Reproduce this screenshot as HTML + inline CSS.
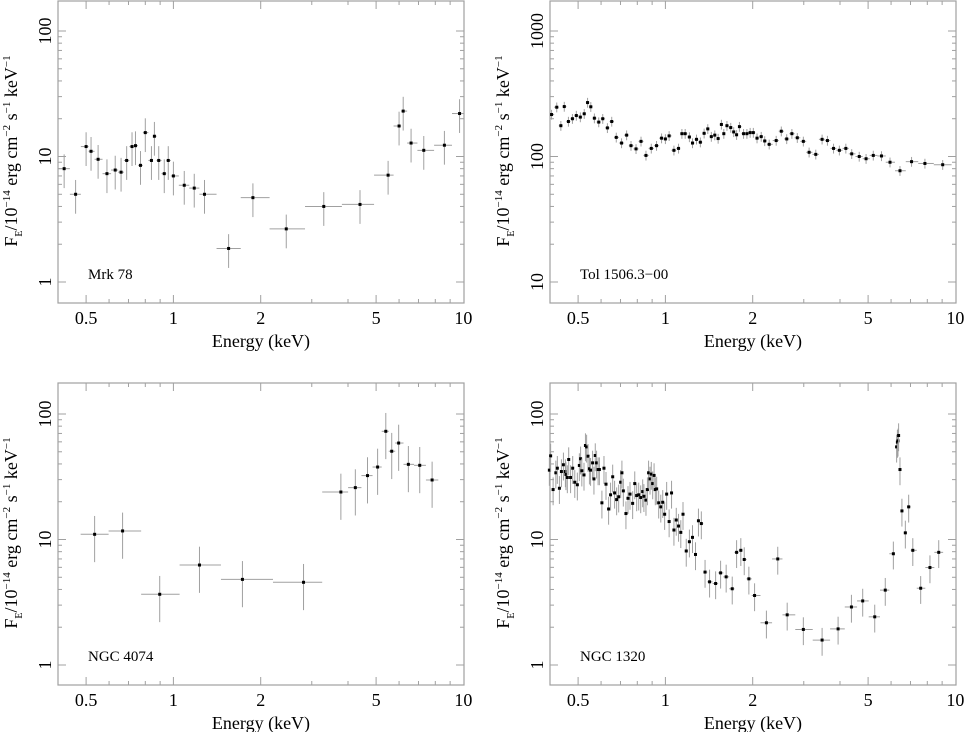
<!DOCTYPE html>
<html><head><meta charset="utf-8">
<style>
html,body{margin:0;padding:0;background:#fff;}
svg, svg text, svg tspan{font-family:"Liberation Serif","Times New Roman",serif;}
</style></head>
<body>
<svg id="fig" width="964" height="732" viewBox="0 0 964 732" xmlns="http://www.w3.org/2000/svg" font-family="Liberation Serif, serif"></svg>
<script>
// ---- Data: Mrk 78 ----
const mrkE = [0.42,0.46,0.50,0.52,0.55,0.59,0.63,0.66,0.69,0.72,0.74,0.77,0.80,0.84,0.86,0.89,0.93,0.96,1.0,1.09,1.18,1.28,1.55,1.88,2.45,3.3,4.4,5.5,6.0,6.2,6.6,7.3,8.6,9.7];
const mrkF = [8.0,5.0,12,11,9.5,7.3,7.8,7.5,9.3,12,12.2,8.5,15.5,9.3,14.5,9.3,7.3,9.3,7.0,5.9,5.6,5.0,1.85,4.7,2.65,4.0,4.15,7.1,17.5,23,12.8,11.2,12.3,22];
// ---- Data: Tol 1506.3-00 ----
const tolE = [0.405,0.422,0.436,0.448,0.463,0.478,0.493,0.509,0.525,0.539,0.553,0.569,0.589,0.608,0.631,0.653,0.677,0.706,0.735,0.761,0.792,0.824,0.857,0.894,0.932,0.970,1.00,1.03,1.07,1.11,1.14,1.17,1.21,1.24,1.28,1.32,1.36,1.40,1.44,1.48,1.52,1.56,1.59,1.63,1.68,1.72,1.76,1.80,1.86,1.91,1.96,2.01,2.07,2.14,2.20,2.28,2.41,2.51,2.62,2.73,2.85,2.99,3.13,3.30,3.47,3.62,3.80,3.98,4.19,4.39,4.66,4.92,5.21,5.56,5.95,6.44,7.06,7.85,9.04];
const tolF = [216,247,176,250,190,200,212,206,219,269,249,202,188,200,169,190,142,128,148,122,115,132,102,116,122,140,138,146,112,116,152,152,143,128,137,130,153,166,144,148,139,180,152,176,170,157,149,173,152,152,155,155,140,144,133,125,134,159,138,152,141,132,108,104,137,134,116,112,116,105,100,96,102,101,90,77,91,88,86];
// ---- Data: NGC 4074 ----
const n4074E = [0.535,0.668,0.897,1.23,1.73,2.81,3.78,4.24,4.67,5.06,5.40,5.66,5.98,6.46,7.07,7.80];
const n4074F = [11.0,11.7,3.66,6.26,4.81,4.56,23.9,25.9,32.3,37.8,72.8,50.5,58.7,39.7,39.0,29.8];
// ---- Data: NGC 1320 ----
const n1320E = [0.398,0.402,0.410,0.419,0.424,0.431,0.438,0.445,0.452,0.454,0.459,0.464,0.471,0.479,0.487,0.497,0.505,0.510,0.515,0.524,0.530,0.535,0.541,0.547,0.552,0.561,0.567,0.573,0.579,0.586,0.592,0.604,0.614,0.624,0.637,0.647,0.658,0.668,0.679,0.690,0.701,0.708,0.716,0.731,0.743,0.755,0.771,0.784,0.796,0.809,0.822,0.835,0.843,0.857,0.867,0.875,0.885,0.894,0.904,0.914,0.923,0.933,0.948,0.964,0.979,0.994,1.01,1.03,1.05,1.07,1.09,1.11,1.13,1.15,1.18,1.21,1.24,1.27,1.30,1.33,1.37,1.42,1.49,1.55,1.62,1.70,1.76,1.82,1.87,1.94,2.03,2.23,2.44,2.63,2.99,3.47,3.94,4.38,4.79,5.27,5.73,6.11,6.27,6.31,6.34,6.37,6.44,6.54,6.72,6.90,7.13,7.59,8.17,8.76];
const n1320F = [35.7,46.4,25.0,34.0,37.0,25.6,34.8,39.4,34.8,33.0,31.2,43.4,31.2,37.0,28.6,27.3,38.9,44.0,35.3,32.7,56.1,54.7,46.1,36.6,35.7,40.8,30.4,46.7,40.8,36.1,36.1,19.6,37.0,27.6,17.5,22.7,31.6,23.5,20.8,21.9,28.6,34.0,24.4,16.1,21.3,23.0,19.4,27.9,22.4,22.7,21.6,24.1,22.1,20.6,25.0,34.0,30.4,33.2,27.9,32.4,25.0,25.3,19.6,18.2,19.8,15.9,23.0,13.9,23.5,11.9,14.3,12.8,11.4,15.9,8.1,9.6,10.4,7.6,14.1,13.4,5.5,4.6,4.46,5.42,5.04,4.05,7.9,8.2,6.93,4.86,3.58,2.17,7.0,2.51,1.92,1.58,1.94,2.90,3.24,2.42,3.95,7.7,54.7,59.7,61.1,67.4,36.1,16.9,11.3,18.2,8.2,4.09,5.98,7.9];
// tick labels
const xTickVals = [0.5,1,2,5,10];
const xTickLabels = ["0.5","1","2","5","10"];
const yTickValsA = [1,10,100];
const yTickLabelsA = ["1","10","100"];
const yTickValsB = [10,100,1000];
const yTickLabelsB = ["10","100","1000"];

const NS="http://www.w3.org/2000/svg";
const FONT='"Liberation Serif", serif';
const svg=document.getElementById('fig');
function mk(tag,attrs,parent){const e=document.createElementNS(NS,tag);for(const k in attrs)e.setAttribute(k,attrs[k]);if(tag==='text'||tag==='tspan')e.setAttribute('font-family',FONT);(parent||svg).appendChild(e);return e;}
function ts(parent,txt,size,dy){const t=mk('tspan',{'font-size':size,dy:dy},parent);t.textContent=txt;return t;}

function panel(cfg){
  const g=mk('g',{});
  
  
  const x0=cfg.x0, x1=x0+406, yT=cfg.yT, yB=yT+302;
  const dec=125.5, xdec=290;
  const X=e=>x0+xdec*Math.log10(e/0.4);
  const Y=f=>cfg.refY-dec*(Math.log10(f)-Math.log10(cfg.refV));
  const gray='#a0a0a0';
  const fr=mk('rect',{x:x0,y:yT,width:x1-x0,height:yB-yT,fill:'none',stroke:gray,'stroke-width':1.2},g);
  
  
  const lo=Math.floor(Math.log10(cfg.refV))-2, hi=lo+5;
  for(let p=lo;p<=hi;p++){for(let m=1;m<10;m++){const v=m*Math.pow(10,p);const y=Y(v);if(y<yT+1||y>yB-1)continue;const L=m===1?8:4;
    mk('line',{x1:x0,y1:y,x2:x0+L,y2:y,stroke:gray,'stroke-width':1},g);mk('line',{x1:x1,y1:y,x2:x1-L,y2:y,stroke:gray,'stroke-width':1},g);}}
  for(let p=-1;p<=1;p++){for(let m=1;m<10;m++){const v=m*Math.pow(10,p);const x=X(v);if(x<x0+1||x>x1-1)continue;const L=(m===1||m===2||m===5)?8:4;
    mk('line',{x1:x,y1:yB,x2:x,y2:yB-L,stroke:gray,'stroke-width':1},g);mk('line',{x1:x,y1:yT,x2:x,y2:yT+L,stroke:gray,'stroke-width':1},g);}}
  xTickVals.forEach((v,i)=>{const t=mk('text',{x:X(v),y:yB+21,'text-anchor':'middle','font-size':18},g);t.textContent=xTickLabels[i];
    
    });
  cfg.yVals.forEach((v,i)=>{const y=Y(v);const t=mk('text',{x:0,y:0,'text-anchor':'middle','font-size':18,transform:`translate(${x0-7},${y}) rotate(-90)`},g);t.textContent=cfg.yLabels[i];
    
    });
  const xt=mk('text',{x:(x0+x1)/2,y:yB+44,'text-anchor':'middle','font-size':18},g);xt.textContent='Energy (keV)';
  
  
  const yt=mk('text',{x:0,y:0,'text-anchor':'middle','font-size':18,transform:`translate(${x0-41},${yT+150}) rotate(-90)`},g);
  ts(yt,'F',18,0);ts(yt,'E',10,5);ts(yt,'/10',18,-5);ts(yt,'−14',11,-7);ts(yt,' erg cm',18,7);ts(yt,'−2',11,-7);ts(yt,' s',18,7);ts(yt,'−1',11,-7);ts(yt,' keV',18,7);ts(yt,'−1',11,-7);
  
  
  const lb=mk('text',{x:x0+30,y:yB-24,'font-size':15},g);lb.textContent=cfg.label;
  
  
  const E=cfg.E,F=cfg.F,n=E.length;
  for(let i=0;i<n;i++){
    const eL=i>0?Math.sqrt(E[i]*E[i-1]):E[i]*E[i]/Math.sqrt(E[i]*E[i+1]);
    const eR=i<n-1?Math.sqrt(E[i]*E[i+1]):E[i]*E[i]/Math.sqrt(E[i]*E[i-1]);
    const x=X(E[i]),y=Y(F[i]);
    const pg=mk('g',{},g);
    
    
    mk('line',{x1:Math.max(x0,X(eL)),y1:y,x2:Math.min(x1,X(eR)),y2:y,stroke:gray,'stroke-width':1},pg);
    mk('line',{x1:x,y1:Y(F[i]*(1+cfg.err)),x2:x,y2:Math.min(yB,Y(F[i]*(1-cfg.err))),stroke:gray,'stroke-width':1},pg);
    mk('rect',{x:x-1.5,y:y-1.5,width:3,height:3,fill:'#000'},pg);
  }
}
panel({name:'mrk78',x0:58,yT:1,refY:31,refV:100,yVals:yTickValsA,yLabels:yTickLabelsA,label:'Mrk 78',E:mrkE,F:mrkF,err:0.3});
panel({name:'tol1506',x0:550,yT:1,refY:31,refV:1000,yVals:yTickValsB,yLabels:yTickLabelsB,label:'Tol 1506.3−00',E:tolE,F:tolF,err:0.09});
panel({name:'ngc4074',x0:58,yT:383,refY:414,refV:100,yVals:yTickValsA,yLabels:yTickLabelsA,label:'NGC 4074',E:n4074E,F:n4074F,err:0.4});
panel({name:'ngc1320',x0:550,yT:383,refY:414,refV:100,yVals:yTickValsA,yLabels:yTickLabelsA,label:'NGC 1320',E:n1320E,F:n1320F,err:0.25});
</script>
</body></html>
